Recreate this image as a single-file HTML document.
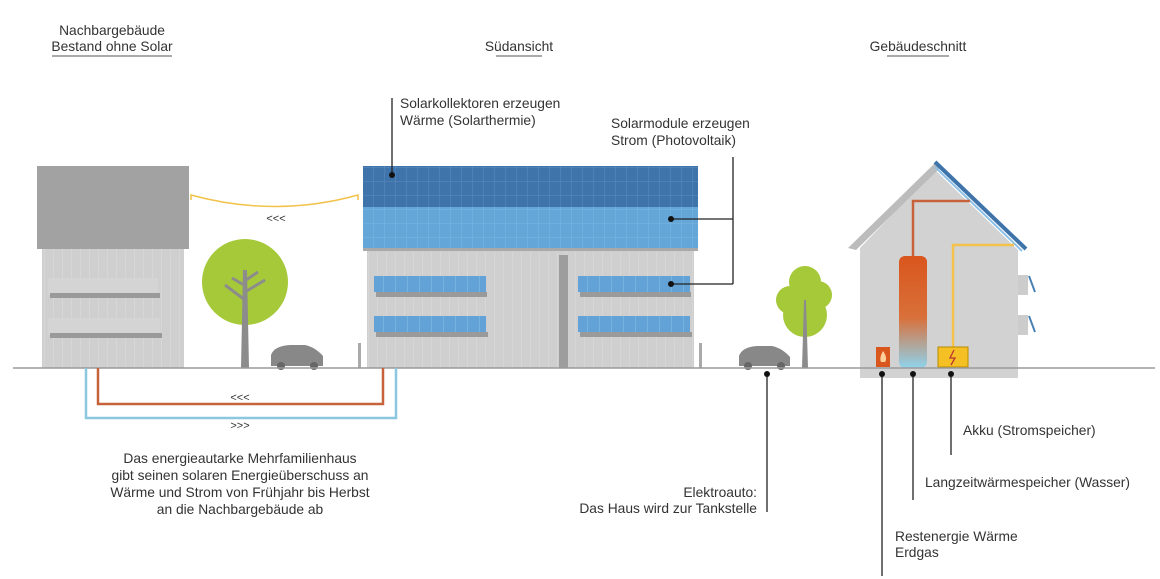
<!DOCTYPE html>
<html><head><meta charset="utf-8"><style>
body{margin:0;background:#fff;}
svg{display:block;}
text{font-family:"Liberation Sans",sans-serif;font-size:13.8px;fill:#333;}
</style></head><body>
<svg width="1160" height="579" viewBox="0 0 1160 579" xmlns="http://www.w3.org/2000/svg">
<defs>
<linearGradient id="tank" x1="0" y1="0" x2="0" y2="1">
<stop offset="0" stop-color="#d9561d"/><stop offset="0.55" stop-color="#d9703a"/><stop offset="1" stop-color="#8fd3ec"/>
</linearGradient>
<pattern id="grid" width="9" height="12" patternUnits="userSpaceOnUse">
<rect width="9" height="12" fill="#cfcfcf"/><path d="M9 0V12" stroke="#dcdcdc" stroke-width="1"/>
</pattern>
<pattern id="pv1" width="11" height="14" patternUnits="userSpaceOnUse">
<rect width="11" height="14" fill="#3f74ab"/><path d="M11 0V14M0 14H11" stroke="#5b8dc0" stroke-width="1"/>
</pattern>
<pattern id="pv2" width="11" height="14" patternUnits="userSpaceOnUse">
<rect width="11" height="14" fill="#65a6d9"/><path d="M11 0V14M0 14H11" stroke="#7cb6e2" stroke-width="1"/>
</pattern>
<pattern id="pv3" width="12" height="16" patternUnits="userSpaceOnUse">
<rect width="12" height="16" fill="#62a2d6"/><path d="M12 0V16" stroke="#8cc0e6" stroke-width="1"/>
</pattern>
</defs>

<text x="112" y="35" text-anchor="middle">Nachbargebäude</text>
<text x="112" y="51" text-anchor="middle">Bestand ohne Solar</text>
<line x1="52" y1="56" x2="172" y2="56" stroke="#555" stroke-width="1"/>
<text x="519" y="51" text-anchor="middle">Südansicht</text>
<line x1="496" y1="56" x2="542" y2="56" stroke="#555" stroke-width="1"/>
<text x="918" y="51" text-anchor="middle">Gebäudeschnitt</text>
<line x1="887" y1="56" x2="949" y2="56" stroke="#555" stroke-width="1"/>

<rect x="37" y="166" width="152" height="83" fill="#a2a2a2"/>
<rect x="42" y="249" width="142" height="119" fill="url(#grid)"/>
<rect x="48" y="278" width="110" height="17" fill="#d4d4d4"/>
<rect x="50" y="293" width="110" height="5" fill="#9a9a9a"/>
<rect x="48" y="318" width="112" height="17" fill="#d4d4d4"/>
<rect x="50" y="333" width="112" height="5" fill="#9a9a9a"/>

<path d="M191 200 V195 Q275 218 358 195 V200" fill="none" stroke="#f2c24b" stroke-width="1.5"/>
<text x="276" y="222" text-anchor="middle" style="font-size:11px">&lt;&lt;&lt;</text>

<circle cx="245" cy="282" r="43" fill="#a6c93a"/>
<polygon points="241,368 249,368 247,270 243,270" fill="#8c8c8c"/>
<path d="M245 300 L225 285 M245 292 L265 280 M246 280 L258 272 M244 285 L232 278" stroke="#8c8c8c" stroke-width="3"/>
<path d="M271 366 V355 Q274 346 290 345 L305 345 Q315 347 323 356 V366 Z" fill="#888"/>
<circle cx="281" cy="366" r="4" fill="#666"/><circle cx="314" cy="366" r="4" fill="#666"/>
<rect x="358" y="343" width="3" height="25" fill="#aaa"/>

<rect x="367" y="250" width="327" height="118" fill="url(#grid)"/>
<rect x="559" y="255" width="9" height="113" fill="#9d9d9d"/>
<rect x="363" y="166" width="335" height="41" fill="url(#pv1)"/>
<rect x="363" y="207" width="335" height="43" fill="url(#pv2)"/>
<rect x="363" y="248" width="335" height="3" fill="#a9a9a9"/>
<g>
<rect x="374" y="276" width="112" height="16" fill="url(#pv3)"/><rect x="376" y="292" width="111" height="5" fill="#9a9a9a"/>
<rect x="374" y="316" width="112" height="16" fill="url(#pv3)"/><rect x="376" y="332" width="112" height="5" fill="#9a9a9a"/>
<rect x="578" y="276" width="112" height="16" fill="url(#pv3)"/><rect x="580" y="292" width="111" height="5" fill="#9a9a9a"/>
<rect x="578" y="316" width="112" height="16" fill="url(#pv3)"/><rect x="580" y="332" width="112" height="5" fill="#9a9a9a"/>
</g>
<rect x="699" y="343" width="3" height="25" fill="#aaa"/>

<circle cx="805" cy="315" r="22" fill="#a6c93a"/>
<circle cx="790" cy="300" r="14" fill="#a6c93a"/><circle cx="818" cy="295" r="14" fill="#a6c93a"/><circle cx="805" cy="282" r="16" fill="#a6c93a"/>
<polygon points="802,368 808,368 806,300 804,300" fill="#8c8c8c"/>
<path d="M739 366 V356 Q742 347 757 346 L772 346 Q782 348 790 357 V366 Z" fill="#888"/>
<circle cx="748" cy="366" r="4" fill="#666"/><circle cx="781" cy="366" r="4" fill="#666"/>

<polygon points="860,248 935,170 1018,250 1018,378 860,378" fill="#d2d2d2"/>
<polygon points="848,248 935,163 940,168 856,250" fill="#bcbcbc"/>
<line x1="935" y1="162" x2="1026" y2="249" stroke="#3f74ab" stroke-width="4"/>
<line x1="935" y1="167" x2="1022" y2="251" stroke="#8cc0e6" stroke-width="2"/>
<rect x="1018" y="275" width="10" height="20" fill="#ccc"/><rect x="1018" y="315" width="10" height="20" fill="#ccc"/>
<line x1="1029" y1="276" x2="1035" y2="292" stroke="#4a7fb4" stroke-width="2"/>
<line x1="1029" y1="316" x2="1035" y2="332" stroke="#4a7fb4" stroke-width="2"/>
<path d="M913 258 V201 H970" fill="none" stroke="#c8623a" stroke-width="2.5"/>
<path d="M953 350 V245 H1014" fill="none" stroke="#f2c24b" stroke-width="2.5"/>
<rect x="899" y="256" width="28" height="112" rx="6" fill="url(#tank)"/>
<rect x="876" y="347" width="14" height="20" fill="#d9561d"/>
<path d="M883 351 Q879 358 881 362 H885 Q888 358 883 351Z" fill="#ffcf9a"/>
<rect x="938" y="347" width="30" height="20" fill="#f5c023" stroke="#b88a00" stroke-width="1"/>
<path d="M954 350 L950 358 H955 L951 365" stroke="#b33" stroke-width="1.3" fill="none"/>

<line x1="13" y1="368" x2="1155" y2="368" stroke="#9a9a9a" stroke-width="1.5"/>

<path d="M98 368 V404 H383 V368" fill="none" stroke="#c8623a" stroke-width="2.5"/>
<path d="M86 368 V418 H396 V368" fill="none" stroke="#8cc7e0" stroke-width="2.5"/>
<text x="240" y="401" text-anchor="middle" style="font-size:11px">&lt;&lt;&lt;</text>
<text x="240" y="429" text-anchor="middle" style="font-size:11px">&gt;&gt;&gt;</text>

<g stroke="#222" stroke-width="1.3" fill="none">
<path d="M392 98 V175"/>
<path d="M671 219 H733 M671 284 H733 M733 157 V284"/>
<path d="M767 374 V512"/>
<path d="M882 374 V576"/>
<path d="M913 374 V500"/>
<path d="M951 374 V455"/>
</g>
<g fill="#111">
<circle cx="392" cy="175" r="3"/><circle cx="671" cy="219" r="3"/><circle cx="671" cy="284" r="3"/>
<circle cx="767" cy="374" r="3"/><circle cx="882" cy="374" r="3"/><circle cx="913" cy="374" r="3"/><circle cx="951" cy="374" r="3"/>
</g>

<text x="400" y="108">Solarkollektoren erzeugen</text>
<text x="400" y="125">Wärme (Solarthermie)</text>
<text x="611" y="128">Solarmodule erzeugen</text>
<text x="611" y="145">Strom (Photovoltaik)</text>
<text x="240" y="463" text-anchor="middle">Das energieautarke Mehrfamilienhaus</text>
<text x="240" y="480" text-anchor="middle">gibt seinen solaren Energieüberschuss an</text>
<text x="240" y="497" text-anchor="middle">Wärme und Strom von Frühjahr bis Herbst</text>
<text x="240" y="514" text-anchor="middle">an die Nachbargebäude ab</text>
<text x="757" y="497" text-anchor="end">Elektroauto:</text>
<text x="757" y="513" text-anchor="end">Das Haus wird zur Tankstelle</text>
<text x="963" y="435">Akku (Stromspeicher)</text>
<text x="925" y="487">Langzeitwärmespeicher (Wasser)</text>
<text x="895" y="541">Restenergie Wärme</text>
<text x="895" y="557">Erdgas</text>
</svg>
</body></html>
